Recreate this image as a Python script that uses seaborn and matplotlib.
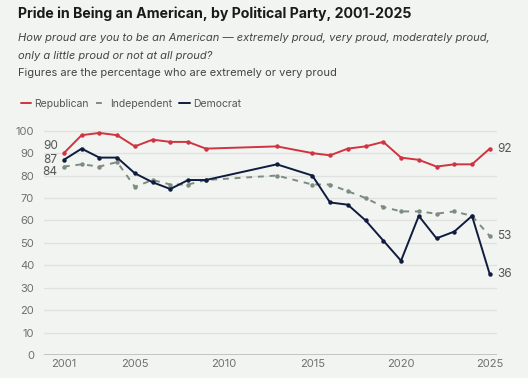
import matplotlib
matplotlib.use("Agg")

import matplotlib.pyplot as plt
import pandas as pd
import seaborn as sns
from matplotlib.lines import Line2D

# --------------------------------------------------------------------------- #
# Data
# --------------------------------------------------------------------------- #
YEARS = [2001, 2002, 2003, 2004, 2005, 2006, 2007, 2008, 2009, 2013,
         2015, 2016, 2017, 2018, 2019, 2020, 2021, 2022, 2023, 2024, 2025]
REPUBLICAN = [90, 98, 99, 98, 93, 96, 95, 95, 92, 93,
              90, 89, 92, 93, 95, 88, 87, 84, 85, 85, 92]
INDEPENDENT = [84, 85, 84, 86, 75, 78, 76, 76, 78, 80,
               76, 76, 73, 70, 66, 64, 64, 63, 64, 62, 53]
DEMOCRAT = [87, 92, 88, 88, 81, 77, 74, 78, 78, 85,
            80, 68, 67, 60, 51, 42, 62, 52, 55, 62, 36]
PARTIES = ["Republican", "Independent", "Democrat"]
X_TICKS = [2001, 2005, 2010, 2015, 2020, 2025]
Y_TICKS = [0, 10, 20, 30, 40, 50, 60, 70, 80, 90, 100]

BG = "#f1f4f1"
COLORS = {"Republican": "#cf3440", "Independent": "#7d8c80", "Democrat": "#0f1c3d"}
STYLES = {"Republican": "-", "Independent": (0, (3, 3)), "Democrat": "-"}
TEXT_GRAY = "#6f6f6f"

sns.set_theme(style="white")
plt.rcParams["font.family"] = ["Inter", "DejaVu Sans"]

df = pd.DataFrame({"Year": YEARS, "Republican": REPUBLICAN,
                   "Independent": INDEPENDENT, "Democrat": DEMOCRAT})
long = df.melt(id_vars="Year", var_name="Party", value_name="Pct")

fig = plt.figure(figsize=(5.28, 3.78), dpi=100, facecolor=BG)
ax = fig.add_axes([0.083, 0.061, 0.858, 0.598])
ax.set_facecolor(BG)

for party in ["Independent", "Democrat", "Republican"]:
    sub = long[long["Party"] == party]
    sns.lineplot(data=sub, x="Year", y="Pct", ax=ax, color=COLORS[party],
                 linestyle=STYLES[party], linewidth=1.4, marker="o",
                 markersize=3.2, markeredgewidth=0, legend=False)

ax.set_xlim(1999.87, 2025.4)
ax.set_ylim(0, 100.8)
ax.set_xticks(X_TICKS)
ax.set_yticks(Y_TICKS)
ax.set_xlabel("")
ax.set_ylabel("")
ax.tick_params(axis="both", length=0, labelsize=8, labelcolor=TEXT_GRAY)
ax.tick_params(axis="y", pad=7)
ax.tick_params(axis="x", pad=3)
for y in Y_TICKS[1:]:
    ax.axhline(y, color="#dfe2df", linewidth=0.9, zorder=0)
ax.axhline(0, color="#b9bcb9", linewidth=1.2, zorder=0)
for s in ax.spines.values():
    s.set_visible(False)

# start value labels, nudged apart so they stack (offsets in data units)
starts = [(REPUBLICAN[0], 3), (DEMOCRAT[0], 0), (INDEPENDENT[0], -2.5)]
for v, dy in starts:
    ax.text(YEARS[0] - 0.35, v + dy, str(v), ha="right", va="center",
            fontsize=8.5, color="#555555")
ends = [REPUBLICAN[-1], INDEPENDENT[-1], DEMOCRAT[-1]]
for v in ends:
    ax.text(YEARS[-1] + 0.4, v, str(v), ha="left", va="center",
            fontsize=8.5, color="#555555")

# titles
fig.text(0.034, 0.963, "Pride in Being an American, by Political Party, 2001-2025",
         fontsize=10.2, fontweight="bold", color="#1a1a1a", va="center")
fig.text(0.034, 0.900,
         "How proud are you to be an American \u2014 extremely proud, very proud, moderately proud,",
         fontsize=8.0, style="italic", color="#444444", va="center")
fig.text(0.034, 0.853, "only a little proud or not at all proud?",
         fontsize=8.0, style="italic", color="#444444", va="center")
fig.text(0.034, 0.808, "Figures are the percentage who are extremely or very proud",
         fontsize=8.0, color="#444444", va="center")

handles = [Line2D([0], [0], color=COLORS[p], linestyle=STYLES[p], linewidth=1.4)
           for p in PARTIES]
fig.legend(handles, PARTIES, loc="center left", bbox_to_anchor=(0.022, 0.725),
           ncol=3, frameon=False, fontsize=7.5, handlelength=1.0,
           handletextpad=0.3, columnspacing=0.7, labelcolor="#555555")

fig.savefig("out.png", dpi=100, facecolor=BG)
